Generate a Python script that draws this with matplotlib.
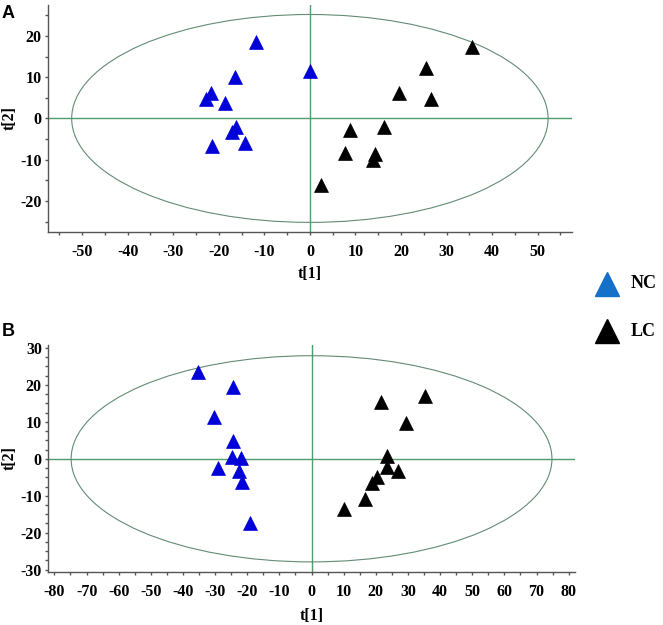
import matplotlib
matplotlib.use("Agg")
import matplotlib.pyplot as plt
import numpy as np
from matplotlib.patches import Ellipse
from matplotlib.lines import Line2D
from matplotlib.ticker import MultipleLocator

plt.rcParams["axes.unicode_minus"] = False

# score values
a_nc_t1 = [-11.8, 0.0, -16.4, -21.8, -22.8, -18.6, -16.2, -17.0, -14.2, -21.4]
a_nc_t2 = [18.6, 11.4, 10.0, 6.1, 4.6, 3.7, -2.1, -3.2, -5.9, -6.7]
a_lc_t1 = [35.5, 25.4, 19.6, 26.5, 16.2, 8.8, 7.7, 14.3, 13.9, 2.5]
a_lc_t2 = [17.3, 12.2, 6.1, 4.6, -2.1, -2.9, -8.4, -8.5, -10.1, -16.1]

b_nc_t1 = [-35.2, -24.3, -30.2, -24.5, -24.6, -22.0, -29.2, -22.5, -21.6, -19.3]
b_nc_t2 = [23.6, 19.5, 11.4, 4.9, 0.4, 0.2, -2.6, -3.2, -6.3, -17.5]
b_lc_t1 = [35.3, 21.7, 29.5, 23.5, 23.5, 26.8, 20.5, 18.8, 16.7, 10.1]
b_lc_t2 = [17.1, 15.4, 9.8, 0.8, -2.2, -3.2, -4.8, -6.6, -10.8, -13.5]

# Hotelling T2 ellipse half-widths (t1, t2)
a_ellipse = (52.3, 25.2)
b_ellipse = (74.8, 27.9)

groups = ["NC", "LC"]

serif = "Liberation Serif"
green = "#4f9d6b"
ell_col = "#638c74"
nc_col = "#0000d8"
lc_col = "black"

fig = plt.figure(figsize=(6.63, 6.25), dpi=100)


def score_panel(rect, nc_x, nc_y, lc_x, lc_y, ell, xlim, ylim, ymin, xlab_y):
    ax = fig.add_axes(rect)
    ax.axhline(0, color=green, lw=1.0, zorder=1)
    ax.axvline(0, color=green, lw=1.0, zorder=1)
    ax.add_patch(Ellipse((0, 0), 2 * ell[0], 2 * ell[1], fill=False,
                         ec=ell_col, lw=0.8, zorder=1))
    ax.scatter(nc_x, nc_y, marker="^", s=100, c=nc_col, edgecolors=nc_col,
               linewidths=0.5, zorder=3)
    ax.scatter(lc_x, lc_y, marker="^", s=100, c=lc_col, edgecolors=lc_col,
               linewidths=0.5, zorder=3)
    ax.set_xlim(xlim)
    ax.set_ylim(ylim)
    ax.xaxis.set_major_locator(MultipleLocator(10))
    ax.xaxis.set_minor_locator(MultipleLocator(5))
    ax.yaxis.set_major_locator(MultipleLocator(10))
    ax.yaxis.set_minor_locator(MultipleLocator(ymin))
    for s in ["top", "right"]:
        ax.spines[s].set_visible(False)
    for s in ["left", "bottom"]:
        ax.spines[s].set_color("#555555")
        ax.spines[s].set_linewidth(1.0)
    ax.tick_params(which="both", direction="out", length=2.5, width=1,
                   color="#555555")
    ax.tick_params(axis="x", pad=6)
    ax.tick_params(axis="y", pad=2)
    for lab in ax.get_xticklabels() + ax.get_yticklabels():
        lab.set_fontfamily(serif)
        lab.set_fontweight("bold")
        lab.set_fontsize(11.5)
    ax.set_xlabel("t[1]", fontfamily=serif, fontweight="bold", fontsize=11.5)
    ax.set_ylabel("t[2]", fontfamily=serif, fontweight="bold", fontsize=11.5)
    ax.xaxis.set_label_coords(0.5, xlab_y)
    ax.yaxis.set_label_coords(-0.058, 0.5)
    return ax


ax_a = score_panel([0.0724, 0.629, 0.790, 0.363], a_nc_t1, a_nc_t2, a_lc_t1,
                   a_lc_t2, a_ellipse, (-57.5, 57.5), (-27.5, 27.5), 5, -0.15)
ax_b = score_panel([0.0724, 0.085, 0.795, 0.363], b_nc_t1, b_nc_t2, b_lc_t1,
                   b_lc_t2, b_ellipse, (-82, 82), (-30.6, 30.8), 2.5, -0.16)

fig.text(0.003, 0.992, "A", fontfamily="Liberation Sans", fontweight="bold",
         fontsize=13, va="top", ha="left")
fig.text(0.003, 0.483, "B", fontfamily="Liberation Sans", fontweight="bold",
         fontsize=13, va="top", ha="left")

# legend
leg_cols = ["#1470c8", "black"]
leg_y = [1 - 284 / 625, 1 - 331 / 625]
for name, col, yy in zip(groups, leg_cols, leg_y):
    fig.add_artist(Line2D([607 / 663], [yy], marker="^", ms=17, color=col,
                          ls="none", transform=fig.transFigure))
    fig.text(631 / 663, yy, name, fontfamily=serif, fontweight="bold",
             fontsize=13, va="center", ha="left")

fig.savefig("out.png", dpi=100)
